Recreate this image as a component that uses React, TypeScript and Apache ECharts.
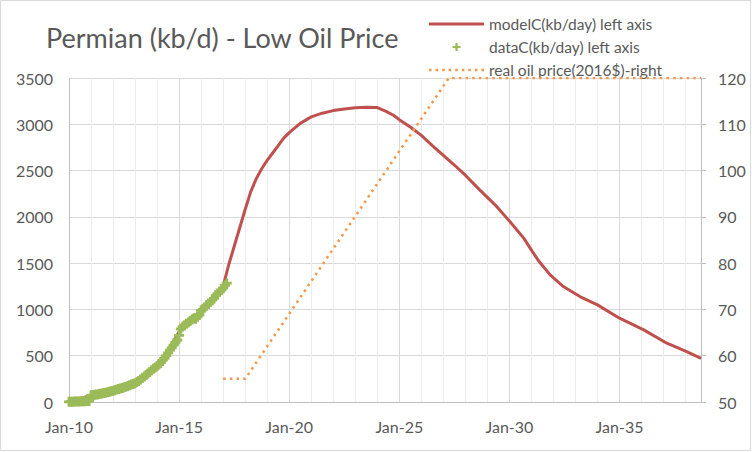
import React, { useEffect, useRef } from 'react';
import * as echarts from 'echarts';

const TITLE = 'Permian (kb/d) - Low Oil Price';
const SERIES_NAMES = ['modelC(kb/day) left axis', 'dataC(kb/day) left axis', 'real oil price(2016$)-right'];

// Model curve (decimal year, kb/d)
const modelYears = [
  2010.0, 2011.0, 2012.0, 2013.0, 2013.5, 2014.0, 2014.5, 2015.0, 2015.5, 2016.0, 2016.5, 2017.0,
  2017.25, 2017.5, 2017.75, 2018.0, 2018.25, 2018.5, 2018.75, 2019.0, 2019.25, 2019.5, 2019.75, 2020.0,
  2020.5, 2021.0, 2021.5, 2022.0, 2022.5, 2023.0, 2023.5, 2024.0, 2024.4, 2024.75, 2025.0, 2025.5,
  2026.0, 2026.5, 2027.0, 2027.5, 2028.0, 2028.65, 2029.35, 2030.0, 2030.65, 2031.0, 2031.35, 2031.85,
  2032.45, 2033.2, 2034.0, 2035.0, 2036.1, 2037.15, 2038.05, 2038.7,
];
const modelValues = [
  5, 70, 125, 205, 290, 385, 560, 760, 880, 990, 1100, 1250,
  1480, 1680, 1880, 2080, 2270, 2410, 2520, 2610, 2690, 2770, 2850, 2910,
  3010, 3080, 3120, 3148, 3165, 3178, 3185, 3180, 3140, 3095, 3050, 2970,
  2880, 2770, 2665, 2560, 2450, 2292, 2130, 1955, 1770, 1640, 1517, 1373,
  1247, 1139, 1049, 905, 779, 635, 544, 472,
];

// Monthly data from Jan 2010
const dataStartYear = 2010;
const dataValues = [
  2, 3, 4, 5, 5, 6, 6, 7, 8, 9, 10, 12,
  72, 75, 78, 82, 85, 88, 92, 96, 100, 104, 110, 115,
  122, 128, 134, 140, 146, 152, 158, 165, 172, 180, 188, 195,
  202, 215, 228, 242, 258, 275, 292, 308, 325, 342, 358, 372,
  385, 405, 425, 450, 472, 500, 530, 560, 585, 615, 645, 670,
  720, 790, 815, 830, 845, 860, 875, 890, 905, 900, 920, 940,
  990, 1000, 1020, 1045, 1060, 1080, 1100, 1120, 1150, 1170, 1190, 1210,
  1230, 1260, 1284,
];

// Real oil price (right axis)
const priceYears = [2017.0, 2018.0, 2027.25, 2038.7];
const priceValues = [55, 55, 120, 120];

const xMin = 2010;
const xMax = 2038.7;
const xTickYears = [2010, 2015, 2020, 2025, 2030, 2035];
const xTickLabels = ['Jan-10', 'Jan-15', 'Jan-20', 'Jan-25', 'Jan-30', 'Jan-35'];

const FONT = 'Lato, "Open Sans", sans-serif';
const TEXT = '#595959';

const PLUS_PATH = 'path://M3.6,0H6.4V3.6H10V6.4H6.4V10H3.6V6.4H0V3.6H3.6Z';
const LINE_ICON = 'path://M0,0H55V3H0Z';
const DOT_ICON =
  'path://' +
  [0, 1, 2, 3, 4, 5, 6, 7, 8]
    .map((i) => {
      const x = (i * 6.4).toFixed(1);
      return `M${x},0h2.5v2.5h-2.5Z`;
    })
    .join('');

export default function App() {
  const ref = useRef<HTMLDivElement>(null);
  useEffect(() => {
    document.body.style.margin = '0';
    const chart = echarts.init(ref.current!, null, { renderer: 'svg' });
    const modelData = modelYears.map((y, i) => [y, modelValues[i]]);
    const scatterData = dataValues.map((v, i) => [dataStartYear + i / 12, v]);
    const priceData = priceYears.map((y, i) => [y, priceValues[i]]);
    chart.setOption({
      animation: false,
      backgroundColor: '#ffffff',
      textStyle: { fontFamily: FONT },
      title: {
        text: TITLE,
        left: 41,
        top: 19,
        textStyle: { fontFamily: FONT, fontSize: 27, fontWeight: 'normal', color: TEXT },
      },
      legend: {
        orient: 'vertical',
        left: 424,
        top: 11,
        itemWidth: 55,
        itemHeight: 8,
        itemGap: 7,
        textStyle: { fontFamily: FONT, fontSize: 15.5, color: TEXT },
        data: [
          { name: SERIES_NAMES[0], icon: LINE_ICON },
          { name: SERIES_NAMES[1], icon: PLUS_PATH },
          { name: SERIES_NAMES[2], icon: DOT_ICON },
        ],
      },
      graphic: [
        {
          type: 'rect',
          shape: { x: 0.5, y: 0.5, width: 750, height: 450 },
          style: { fill: 'none', stroke: '#d9d9d9', lineWidth: 1 },
          silent: true,
        },
      ],
      grid: { left: 69, right: 51, top: 78, bottom: 50 },
      xAxis: {
        type: 'value',
        min: xMin,
        max: xMax,
        interval: 1,
        axisLine: { show: true, lineStyle: { color: '#bfbfbf' } },
        axisTick: { show: false },
        axisLabel: {
          color: TEXT,
          fontSize: 16,
          fontFamily: FONT,
          margin: 16,
          formatter: (v: number) => {
            const i = xTickYears.findIndex((t) => Math.abs(t - v) < 1e-6);
            return i >= 0 ? xTickLabels[i] : '';
          },
        },
        splitLine: {
          show: true,
          lineStyle: { color: ['#d9d9d9', '#ececec', '#ececec', '#ececec', '#ececec'], width: 1 },
        },
      },
      yAxis: [
        {
          type: 'value',
          min: 0,
          max: 3500,
          interval: 500,
          axisLine: { show: true, lineStyle: { color: '#bfbfbf' } },
          axisTick: { show: false },
          axisLabel: { color: TEXT, fontSize: 16, fontFamily: FONT, margin: 16, formatter: (v: number) => String(v) },
          splitLine: { show: true, lineStyle: { color: '#d9d9d9' } },
        },
        {
          type: 'value',
          position: 'right',
          min: 50,
          max: 120,
          interval: 10,
          axisLine: { show: true, lineStyle: { color: '#bfbfbf' } },
          axisTick: { show: true, length: 5, lineStyle: { color: '#bfbfbf' } },
          axisLabel: { color: TEXT, fontSize: 16, fontFamily: FONT, margin: 17, formatter: (v: number) => String(v) },
          splitLine: { show: false },
        },
      ],
      series: [
        {
          name: SERIES_NAMES[0],
          type: 'line',
          data: modelData,
          symbol: 'none',
          z: 2,
          lineStyle: { color: '#C0504D', width: 3 },
          itemStyle: { color: '#C0504D' },
        },
        {
          name: SERIES_NAMES[1],
          type: 'scatter',
          data: scatterData,
          symbol: PLUS_PATH,
          symbolSize: 10,
          z: 3,
          itemStyle: { color: '#9BBB59', opacity: 1 },
        },
        {
          name: SERIES_NAMES[2],
          type: 'line',
          yAxisIndex: 1,
          data: priceData,
          symbol: 'none',
          z: 4,
          lineStyle: { color: '#F79646', width: 2.5, type: [2.5, 4.2] },
          itemStyle: { color: '#F79646' },
        },
      ],
    });
    return () => chart.dispose();
  }, []);
  return <div ref={ref} style={{ width: 752, height: 452 }} />;
}
